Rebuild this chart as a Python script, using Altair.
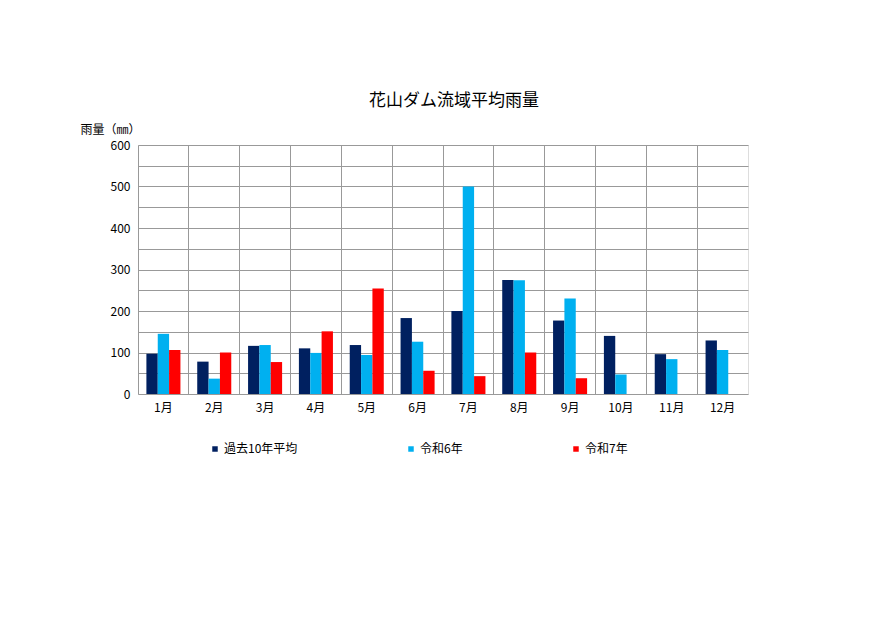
import altair as alt
import pandas as pd

months = ["1月", "2月", "3月", "4月", "5月", "6月", "7月", "8月", "9月", "10月", "11月", "12月"]
series_names = ["過去10年平均", "令和6年", "令和7年"]
avg10 = [97, 78, 116, 110, 118, 183, 200, 275, 177, 140, 96, 129]
r6 = [145, 37, 118, 99, 94, 126, 500, 274, 230, 47, 84, 106]
r7 = [106, 100, 77, 151, 254, 56, 43, 100, 38, None, None, None]
colors = ["#002060", "#00B0F0", "#FF0000"]

rows = []
for name, vals in zip(series_names, [avg10, r6, r7]):
    for m, v in zip(months, vals):
        if v is not None:
            rows.append({"month": m, "series": name, "value": v})
df = pd.DataFrame(rows)

FONT = "Noto Sans CJK JP"

chart = alt.Chart(df).mark_bar().encode(
    x=alt.X("month:N", sort=months,
            scale=alt.Scale(paddingInner=0, paddingOuter=0),
            axis=alt.Axis(title=None, labelAngle=0, grid=True, bandPosition=0,
                          gridColor="#999999", gridWidth=1, ticks=False,
                          domain=False, labelPadding=8, labelFontSize=12,
                          labelColor="#000000", labelFont=FONT)),
    xOffset=alt.XOffset("series:N", sort=series_names,
                        scale=alt.Scale(domain=series_names, paddingInner=0, paddingOuter=0.74)),
    y=alt.Y("value:Q",
            scale=alt.Scale(domain=[0, 600], nice=False),
            axis=alt.Axis(title="雨量（㎜）", titleAngle=0, titleX=-58, titleY=-9,
                          titleAlign="left", titleBaseline="bottom",
                          titleFontSize=12, titleFontWeight="normal", titleFont=FONT,
                          titleColor="#000000",
                          values=list(range(0, 601, 50)),
                          labelExpr="datum.value % 100 == 0 ? datum.label : ''",
                          gridColor="#999999", gridWidth=1, ticks=False, domain=False,
                          labelPadding=8, labelFontSize=12, labelColor="#000000",
                          labelFont=FONT)),
    color=alt.Color("series:N", sort=series_names,
                    scale=alt.Scale(domain=series_names, range=colors),
                    legend=alt.Legend(title=None, orient="none", direction="horizontal",
                                      legendX=71, legendY=298, columnPadding=107,
                                      symbolType="square", symbolSize=30,
                                      symbolStrokeWidth=0,
                                      labelFontSize=12, labelFont=FONT,
                                      labelColor="#000000", labelOffset=3)),
).properties(
    width=610,
    height=249,
    title=alt.TitleParams("花山ダム流域平均雨量", fontSize=17, fontWeight="normal",
                          font=FONT, color="#000000", offset=13, dx=11,
                          anchor="middle", frame="group"),
    autosize=alt.AutoSizeParams(type="none"),
    padding={"left": 130, "top": 137, "right": 100, "bottom": 200},
).configure_view(
    stroke="#999999", strokeWidth=1
).configure(background="white")

chart.save("out.html", embed_options={"renderer": "svg", "actions": False})
